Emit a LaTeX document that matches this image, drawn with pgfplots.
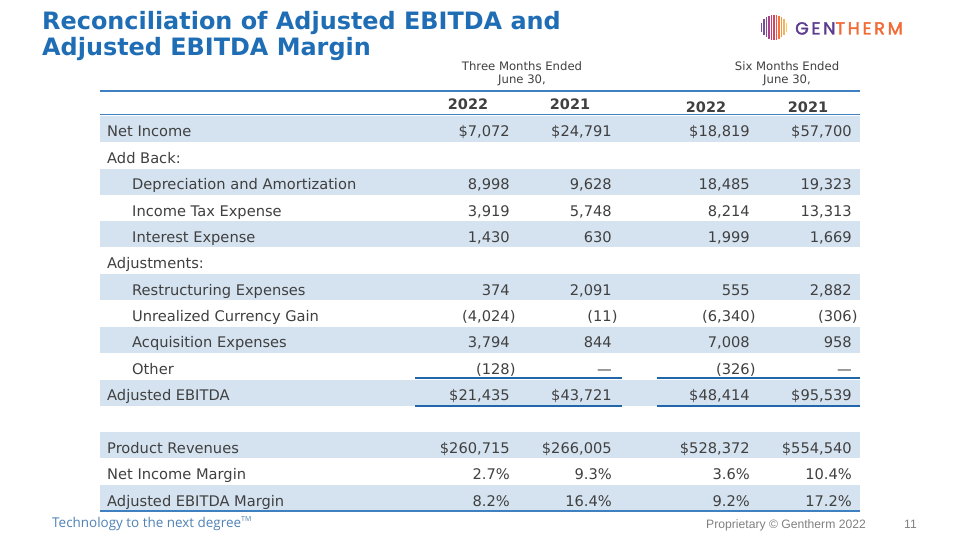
\documentclass[border=0pt]{standalone}
\usepackage{pgfplots}
\pgfplotsset{compat=1.18}
\usepackage{fontspec}
\setmainfont{DejaVu Sans}
\newfontfamily\logofont[LetterSpace=16,FakeBold=2.2]{Poppins}
\newfontfamily\footfont{Open Sans}
\newfontfamily\propfont{Liberation Sans}
\definecolor{tblue}{HTML}{1F6EB5}
\definecolor{band}{HTML}{D5E3F0}
\definecolor{lineblue}{HTML}{3F80C0}
\definecolor{txt}{HTML}{404040}
\definecolor{dblue}{HTML}{2166A8}
\definecolor{gpurple}{HTML}{5C3D8F}
\definecolor{gorange}{HTML}{F26A36}
\newcommand\bodyfont{\fontsize{14.7}{16}\selectfont}
% row: baseline y, label x, label, v1..v4
\newcommand\trow[7]{%
  \node[anchor=base west,text=txt,font=\bodyfont,inner sep=0pt] at (axis cs:#2,#1) {#3};
  \node[anchor=base east,text=txt,font=\bodyfont,inner sep=0pt] at (axis cs:510,#1) {#4};
  \node[anchor=base east,text=txt,font=\bodyfont,inner sep=0pt] at (axis cs:612,#1) {#5};
  \node[anchor=base east,text=txt,font=\bodyfont,inner sep=0pt] at (axis cs:750,#1) {#6};
  \node[anchor=base east,text=txt,font=\bodyfont,inner sep=0pt] at (axis cs:852,#1) {#7};
}
\begin{document}
\begin{tikzpicture}
\begin{axis}[scale only axis, width=960bp, height=540bp,
  xmin=0, xmax=960, ymin=0, ymax=540, y dir=reverse,
  axis lines=none, clip=false]
\addplot[fill=white,draw=none] coordinates {(0,0) (960,0) (960,540) (0,540)};
% shaded bands
\addplot[fill=band,draw=none] coordinates {(100,116) (860,116) (860,142) (100,142)};
\addplot[fill=band,draw=none] coordinates {(100,168.7) (860,168.7) (860,194.7) (100,194.7)};
\addplot[fill=band,draw=none] coordinates {(100,221.4) (860,221.4) (860,247.4) (100,247.4)};
\addplot[fill=band,draw=none] coordinates {(100,274.1) (860,274.1) (860,300.1) (100,300.1)};
\addplot[fill=band,draw=none] coordinates {(100,326.8) (860,326.8) (860,352.8) (100,352.8)};
\addplot[fill=band,draw=none] coordinates {(100,379.5) (860,379.5) (860,405.5) (100,405.5)};
\addplot[fill=band,draw=none] coordinates {(100,432.2) (860,432.2) (860,458.2) (100,458.2)};
\addplot[fill=band,draw=none] coordinates {(100,485) (860,485) (860,511) (100,511)};
% rules
\addplot[lineblue,line width=1.2pt] coordinates {(100,91) (860,91)};
\addplot[lineblue,line width=1.5pt] coordinates {(100,114.5) (860,114.5)};
\addplot[lineblue,line width=1.5pt] coordinates {(100,511) (860,511)};
\addplot[dblue,line width=2.2pt] coordinates {(415,378) (622,378)};
\addplot[dblue,line width=2.2pt] coordinates {(657,378) (860,378)};
\addplot[dblue,line width=2.2pt] coordinates {(415,406) (622,406)};
\addplot[dblue,line width=2.2pt] coordinates {(657,406) (860,406)};
% title
\node[anchor=base west,text=tblue,font=\fontsize{24}{26}\selectfont\bfseries,inner sep=0pt] at (axis cs:42,30) {Reconciliation of Adjusted EBITDA and};
\node[anchor=base west,text=tblue,font=\fontsize{24}{26}\selectfont\bfseries,inner sep=0pt] at (axis cs:42,56) {Adjusted EBITDA Margin};
% column headers
\node[text=txt,font=\fontsize{11.7}{13}\selectfont,anchor=base,inner sep=0pt] at (axis cs:522,70.5) {Three Months Ended};
\node[text=txt,font=\fontsize{11.7}{13}\selectfont,anchor=base,inner sep=0pt] at (axis cs:522,83.5) {June 30,};
\node[text=txt,font=\fontsize{11.7}{13}\selectfont,anchor=base,inner sep=0pt] at (axis cs:787,70.5) {Six Months Ended};
\node[text=txt,font=\fontsize{11.7}{13}\selectfont,anchor=base,inner sep=0pt] at (axis cs:787,83.5) {June 30,};
\node[text=txt,font=\fontsize{14.5}{16}\selectfont\bfseries,anchor=base,inner sep=0pt] at (axis cs:468,109.5) {2022};
\node[text=txt,font=\fontsize{14.5}{16}\selectfont\bfseries,anchor=base,inner sep=0pt] at (axis cs:570,109.5) {2021};
\node[text=txt,font=\fontsize{14.5}{16}\selectfont\bfseries,anchor=base,inner sep=0pt] at (axis cs:706,112.5) {2022};
\node[text=txt,font=\fontsize{14.5}{16}\selectfont\bfseries,anchor=base,inner sep=0pt] at (axis cs:808,112.5) {2021};
% rows
\trow{137}{107}{Net Income}{\$7,072}{\$24,791}{\$18,819}{\$57,700}
\trow{163.4}{107}{Add Back:}{}{}{}{}
\trow{189.7}{132}{Depreciation and Amortization}{8,998}{9,628}{18,485}{19,323}
\trow{216.1}{132}{Income Tax Expense}{3,919}{5,748}{8,214}{13,313}
\trow{242.4}{132}{Interest Expense}{1,430}{630}{1,999}{1,669}
\trow{268.8}{107}{Adjustments:}{}{}{}{}
\trow{295.1}{132}{Restructuring Expenses}{374}{2,091}{555}{2,882}
\trow{321.5}{132}{Unrealized Currency Gain}{(4,024\rlap{)}}{(11\rlap{)}}{(6,340\rlap{)}}{(306\rlap{)}}
\trow{347.8}{132}{Acquisition Expenses}{3,794}{844}{7,008}{958}
\trow{374.2}{132}{Other}{(128\rlap{)}}{—}{(326\rlap{)}}{—}
\trow{400.5}{107}{Adjusted EBITDA}{\$21,435}{\$43,721}{\$48,414}{\$95,539}
\trow{453.2}{107}{Product Revenues}{\$260,715}{\$266,005}{\$528,372}{\$554,540}
\trow{479.6}{107}{Net Income Margin}{2.7\%}{9.3\%}{3.6\%}{10.4\%}
\trow{506}{107}{Adjusted EBITDA Margin}{8.2\%}{16.4\%}{9.2\%}{17.2\%}
% logo sphere
\draw[color={rgb,255:red,110;green,80;blue,160},line width=1.1pt] (axis cs:761.5,23) -- (axis cs:761.5,32);
\draw[color={rgb,255:red,120;green,75;blue,155},line width=1.1pt] (axis cs:764,19.5) -- (axis cs:764,35.5);
\draw[color={rgb,255:red,140;green,70;blue,150},line width=1.1pt] (axis cs:766.5,17.5) -- (axis cs:766.5,37.5);
\draw[color={rgb,255:red,165;green,68;blue,135},line width=1.1pt] (axis cs:769,16) -- (axis cs:769,39);
\draw[color={rgb,255:red,195;green,65;blue,115},line width=1.1pt] (axis cs:771.5,15) -- (axis cs:771.5,40);
\draw[color={rgb,255:red,220;green,65;blue,95},line width=1.1pt] (axis cs:774,14.7) -- (axis cs:774,40.3);
\draw[color={rgb,255:red,236;green,85;blue,75},line width=1.1pt] (axis cs:776.5,15) -- (axis cs:776.5,40);
\draw[color={rgb,255:red,242;green,115;blue,62},line width=1.1pt] (axis cs:779,16) -- (axis cs:779,39);
\draw[color={rgb,255:red,245;green,150;blue,70},line width=1.1pt] (axis cs:781.5,17.5) -- (axis cs:781.5,37.5);
\draw[color={rgb,255:red,247;green,180;blue,85},line width=1.1pt] (axis cs:784,19.5) -- (axis cs:784,35.5);
\draw[color={rgb,255:red,248;green,205;blue,110},line width=1.1pt] (axis cs:786.5,23) -- (axis cs:786.5,32);
\node[anchor=base west,inner sep=0pt,font=\logofont\fontsize{17.5}{19}\selectfont] at (axis cs:795,34.5) {\textcolor{gpurple}{GEN}\textcolor{gorange}{THERM}};
% footer
\node[anchor=base west,inner sep=0pt,text={rgb,255:red,80;green,130;blue,180},font=\footfont\fontsize{13.5}{15}\selectfont] at (axis cs:52,527) {Technology to the next degree\textsuperscript{\fontsize{7}{8}\selectfont TM}};
\node[anchor=base west,inner sep=0pt,text={rgb,255:red,128;green,128;blue,128},font=\propfont\fontsize{12.2}{13}\selectfont] at (axis cs:706,528) {Proprietary © Gentherm 2022};
\node[anchor=base west,inner sep=0pt,text={rgb,255:red,128;green,128;blue,128},font=\propfont\fontsize{12.2}{13}\selectfont] at (axis cs:904,528) {11};
\end{axis}
\end{tikzpicture}
\end{document}
